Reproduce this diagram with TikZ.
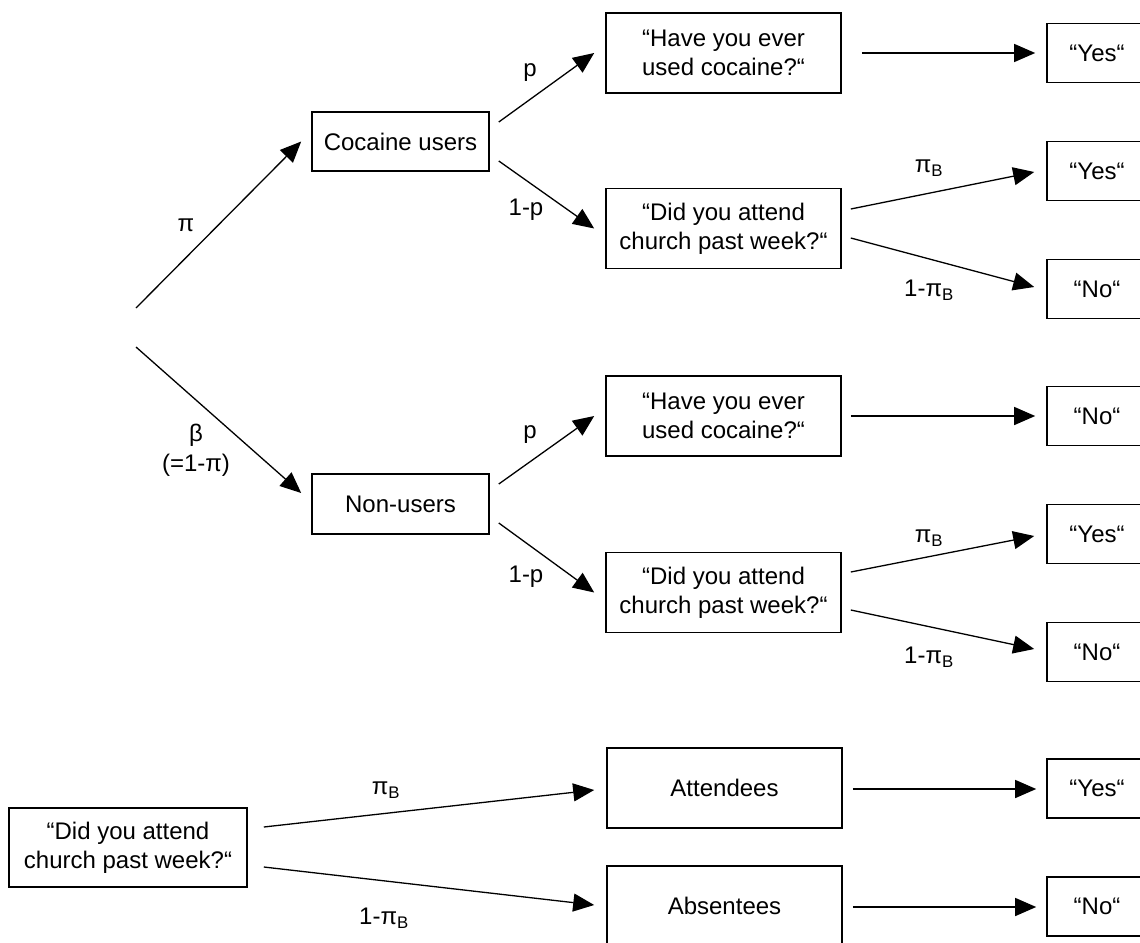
\documentclass[tikz,border=0pt]{standalone}
\usepackage{fontspec}
\setmainfont{Liberation Sans}
\usetikzlibrary{arrows.meta,calc}
\begin{document}
\begin{tikzpicture}[x=1pt,y=-1pt,
  every node/.style={font=\fontsize{24}{29}\selectfont},
  box/.style={draw, line width=1.6pt, align=center, inner sep=0pt},
  groupbox/.style={box, minimum width=177pt, minimum height=59pt},
  qbox/.style={box, minimum width=235pt, minimum height=80pt},
  ansbox/.style={box, minimum width=100pt, minimum height=59pt},
  arr/.style={line width=1.3pt, -{Triangle[length=21pt,width=18pt]}},
  lbl/.style={inner sep=0pt}
]
\useasboundingbox (0,0) rectangle (1140,942);

% population split
\coordinate (root1) at (136,308);
\coordinate (root2) at (136,347);
\node[groupbox] (users) at (400.5,141.5) {Cocaine users};
\node[groupbox, minimum height=60pt] (nonusers) at (400.5,504) {Non-users};

% questions
\node[qbox] (have1) at (723.5,53) {“Have you ever\\used cocaine?“};
\node[qbox] (did1) at (723.5,228.5) {“Did you attend\\church past week?“};
\node[qbox] (have2) at (723.5,416) {“Have you ever\\used cocaine?“};
\node[qbox] (did2) at (723.5,592.5) {“Did you attend\\church past week?“};

% answers
\node[ansbox] (yes1) at (1097,53) {“Yes“};
\node[ansbox] (yes2) at (1097,171) {“Yes“};
\node[ansbox] (no1) at (1097,289) {“No“};
\node[ansbox] (no2) at (1097,416) {“No“};
\node[ansbox] (yes3) at (1097,534) {“Yes“};
\node[ansbox] (no3) at (1097,652) {“No“};

% control question
\node[qbox, minimum width=238pt, minimum height=79pt] (did3) at (128,847.5) {“Did you attend\\church past week?“};
\node[qbox] (attend) at (724.5,788) {Attendees};
\node[qbox] (absent) at (724.5,906) {Absentees};
\node[ansbox] (yes4) at (1097,788.5) {“Yes“};
\node[ansbox] (no4) at (1097,906.5) {“No“};

% connectors
\draw[arr] (root1) -- ($(users.west)+(-10,0)$);
\draw[arr] (root2) -- ($(nonusers.west)+(-10,-11)$);

\draw[arr] ($(users.east)+(9,-19.5)$) -- ($(have1.west)+(-11,0)$);
\draw[arr] ($(users.east)+(9,19.5)$) -- ($(did1.west)+(-11,0)$);
\draw[arr] ($(nonusers.east)+(9,-20)$) -- ($(have2.west)+(-11,0)$);
\draw[arr] ($(nonusers.east)+(9,19)$) -- ($(did2.west)+(-11,0)$);

\draw[arr] ($(have1.east)+(20,0)$) -- ($(yes1.west)+(-11,0)$);
\draw[arr] ($(did1.east)+(9,-19.5)$) -- ($(yes2.west)+(-12,1)$);
\draw[arr] ($(did1.east)+(9,9.5)$) -- ($(no1.west)+(-12,-2)$);
\draw[arr] ($(have2.east)+(9,0)$) -- ($(no2.west)+(-11,0)$);
\draw[arr] ($(did2.east)+(9,-20.5)$) -- ($(yes3.west)+(-12,2)$);
\draw[arr] ($(did2.east)+(9,17.5)$) -- ($(no3.west)+(-12,-3)$);

\draw[arr] ($(did3.east)+(16,-20.5)$) -- ($(attend.west)+(-12,2)$);
\draw[arr] ($(did3.east)+(16,19.5)$) -- ($(absent.west)+(-12,-1)$);
\draw[arr] ($(attend.east)+(10,1)$) -- ($(yes4.west)+(-10,0.5)$);
\draw[arr] ($(absent.east)+(10,1)$) -- ($(no4.west)+(-10,0.5)$);

% branch probabilities
\node[lbl] (lpi) at (186,225) {π};
\node[lbl, align=center, font=\fontsize{24}{30}\selectfont] (lbeta) at (196,450) {β\\(=1-π)};
\node[lbl] (lp1) at (530,73) {p};
\node[lbl] (lq1) at (526,210) {1-p};
\node[lbl] (lp2) at (530,435) {p};
\node[lbl] (lq2) at (526,577) {1-p};
\node[lbl] (lb1) at (929,168) {π\textsubscript{B}};
\node[lbl] (lc1) at (929,290) {1-π\textsubscript{B}};
\node[lbl] (lb2) at (929,538) {π\textsubscript{B}};
\node[lbl] (lc2) at (929,657) {1-π\textsubscript{B}};
\node[lbl] (lb3) at (386,790) {π\textsubscript{B}};
\node[lbl] (lc3) at (384,918) {1-π\textsubscript{B}};
\end{tikzpicture}
\end{document}
